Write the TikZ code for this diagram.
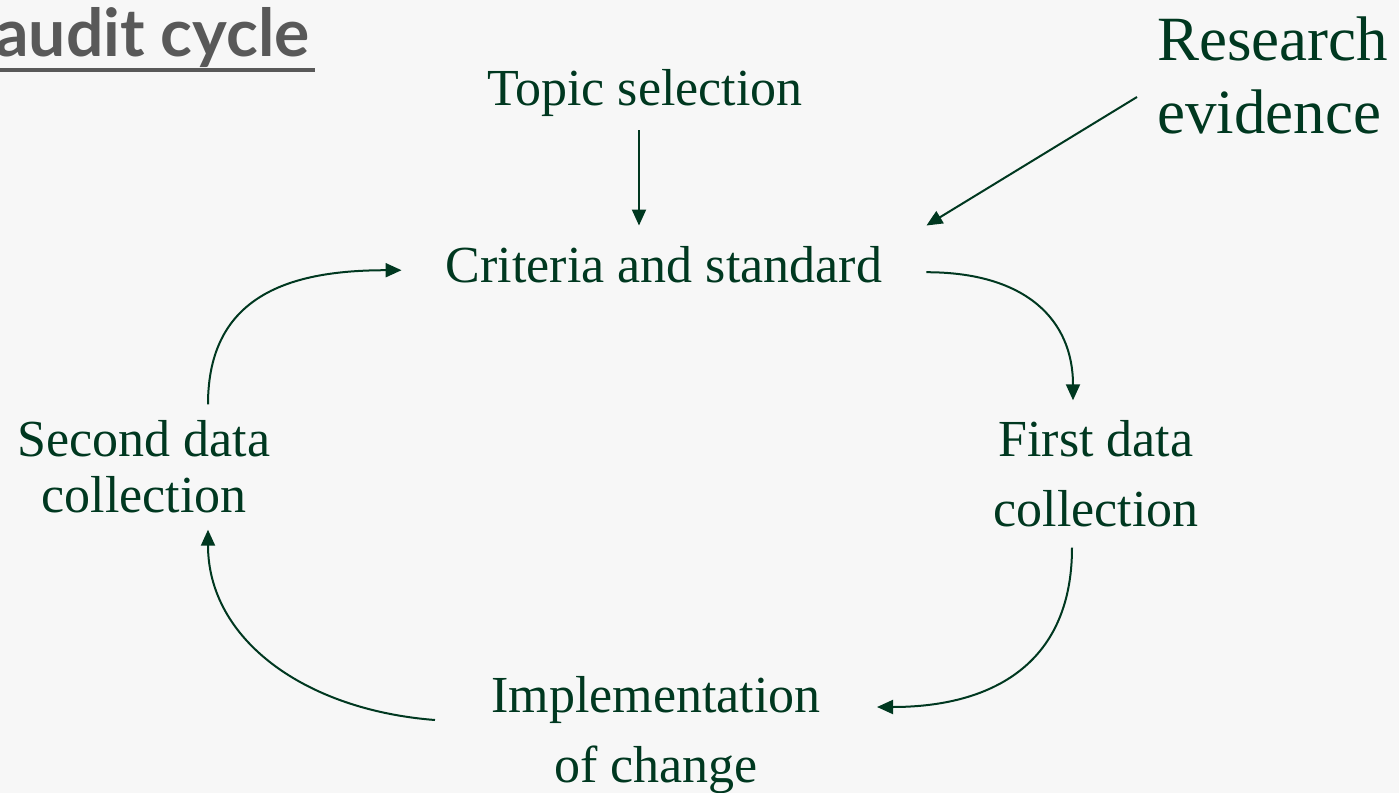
\documentclass[tikz,border=0pt]{standalone}
\usepackage{fontspec}
\setmainfont{Liberation Serif}
\newfontfamily\titlefont{Lato}
\usetikzlibrary{arrows.meta,calc}
\definecolor{cycgreen}{RGB}{0,56,32}
\definecolor{titlegray}{RGB}{89,89,89}
\definecolor{bggray}{RGB}{247,247,247}
\begin{document}
\begin{tikzpicture}[x=0.5pt,y=-0.5pt,>={Triangle[length=8pt,width=7pt]},
	lbl/.style={text=cycgreen,align=center,font=\fontsize{26}{35}\selectfont},
	link/.style={->,draw=cycgreen,line width=1pt}]
	\useasboundingbox (0,0) rectangle (1399,793);
	\clip (0,0) rectangle (1399,793);
	\fill[bggray] (0,0) rectangle (1399,793);
	% title, cut at the left edge
	\node[anchor=base west,inner sep=0,text=titlegray,font=\titlefont\bfseries\fontsize{33}{36}\selectfont] (title) at (-5,56) {audit cycle};
	\draw[titlegray,line width=2pt] (-6,70)--(315,70);
	% stages
	\node[lbl,anchor=base,inner ysep=7pt] (topic) at (645,105) {Topic selection};
	\node[lbl,anchor=base,inner xsep=22pt,inner ysep=10pt] (criteria) at (664,282) {Criteria and standard};
	\node[lbl,anchor=west,inner sep=0,align=left,font=\fontsize{31.5}{36.5}\selectfont] (research) at (1157,75) {Research\\evidence};
	\node[lbl,inner ysep=10pt] (first) at (1096,474) {First data\\collection};
	\node[lbl,inner xsep=28pt] (impl) at (656,735) {Implementation\\of change};
	\node[lbl,inner ysep=8pt,font=\fontsize{26}{28}\selectfont] (second) at (144,467) {Second data\\collection};
	% arrows
	\draw[link] ([xshift=-3pt]topic.south)--([xshift=-3pt]topic.south |- criteria.north);
	\draw[link] ([xshift=-10pt,yshift=-11pt]research.west)--(criteria.north east);
	\draw[link] ([yshift=-4pt]criteria.east) .. controls +(100,0) and +(0,-80) .. ([xshift=-11.5pt]first.north);
	\draw[link] ([xshift=-12pt]first.south) .. controls +(0,120) and +(110,0) .. ([yshift=14pt]impl.east);
	\draw[link] ([yshift=7.5pt]impl.west) .. controls +(-130,-10) and +(0,110) .. ([xshift=32pt]second.south);
	\draw[link] ([xshift=32pt]second.north) .. controls +(0,-110) and +(-110,0) .. ([yshift=-3pt]criteria.west);
\end{tikzpicture}
\end{document}
